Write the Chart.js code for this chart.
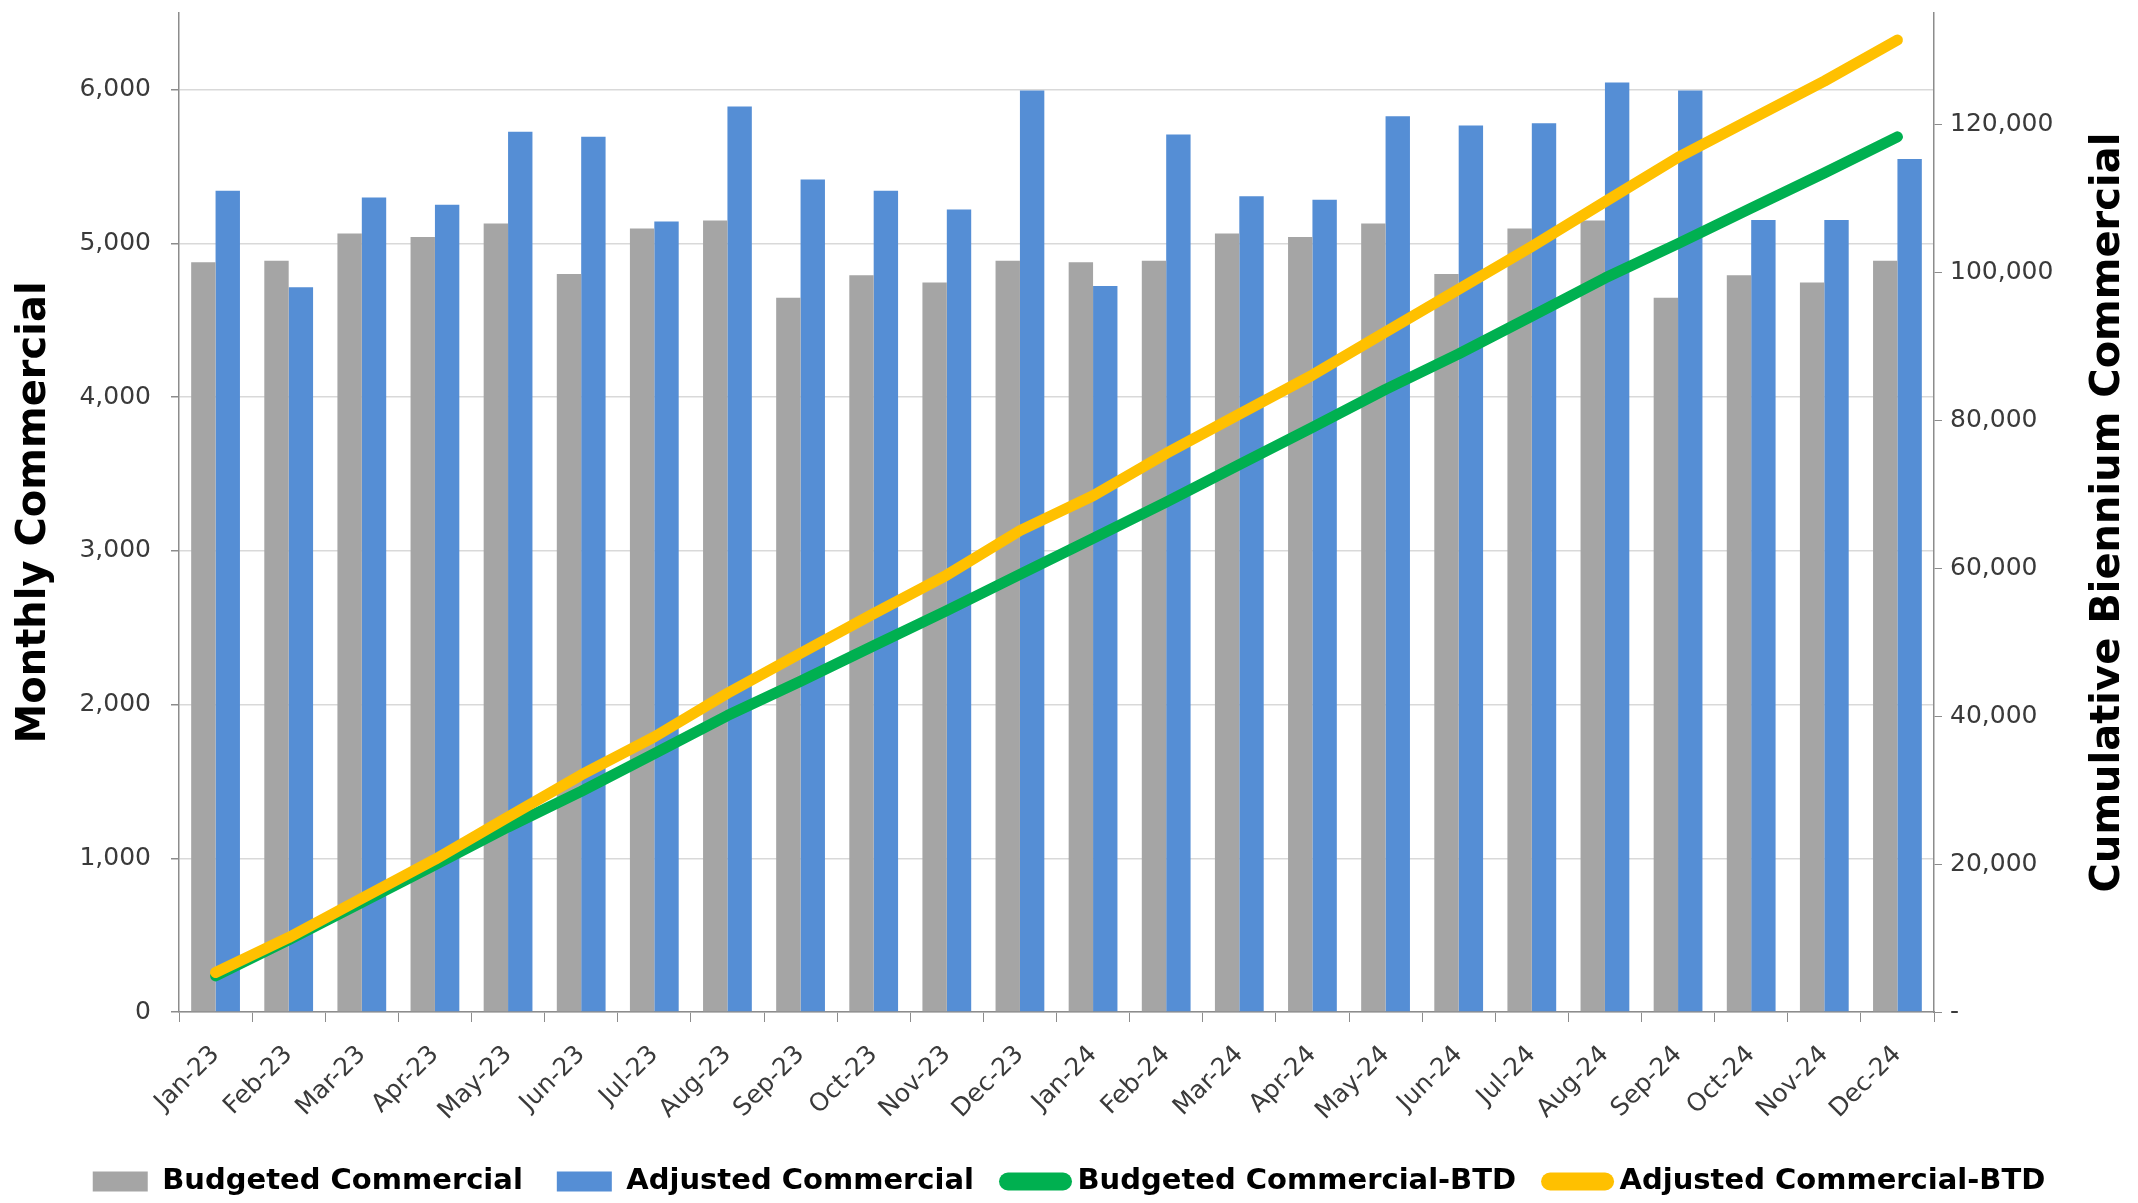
<!DOCTYPE html>
<html>
<head>
<meta charset="utf-8">
<script src="https://cdn.jsdelivr.net/npm/chart.js@4/dist/chart.umd.min.js"></script>
<style>
    html, body { margin: 0; padding: 0; background: #ffffff; }
    #wrap { width: 2138px; height: 1203px; }
</style>
</head>
<body>
<div id="wrap"><canvas id="commercialChart" width="2138" height="1203"></canvas></div>
<script>
// Month categories
const months = ['Jan-23', 'Feb-23', 'Mar-23', 'Apr-23', 'May-23', 'Jun-23', 'Jul-23', 'Aug-23', 'Sep-23', 'Oct-23', 'Nov-23', 'Dec-23',
    'Jan-24', 'Feb-24', 'Mar-24', 'Apr-24', 'May-24', 'Jun-24', 'Jul-24', 'Aug-24', 'Sep-24', 'Oct-24', 'Nov-24', 'Dec-24'];

// Monthly values (left axis)
const budgetedMonthly = [4879, 4888, 5066, 5043, 5130, 4802, 5098, 5150, 4647, 4793, 4747, 4888,
    4879, 4888, 5066, 5043, 5130, 4802, 5098, 5150, 4647, 4793, 4747, 4888];
const adjustedMonthly = [5344, 4715, 5299, 5253, 5727, 5695, 5144, 5891, 5417, 5344, 5221, 5996,
    4724, 5709, 5308, 5285, 5828, 5768, 5782, 6047, 5996, 5153, 5153, 5550];

// Biennium-to-date values (right axis)
const budgetedBtd = [4879, 9767, 14833, 19876, 25006, 29808, 34906, 40056, 44703, 49496, 54243, 59131,
    64010, 68898, 73964, 79007, 84137, 88939, 94037, 99187, 103834, 108627, 113374, 118262];
const adjustedBtd = [5344, 10059, 15358, 20611, 26338, 32033, 37177, 43068, 48485, 53829, 59050, 65046,
    69770, 75479, 80787, 86072, 91900, 97668, 103450, 109497, 115493, 120646, 125799, 131349];

// Axis ranges, tick values and titles
const leftMax = 6500;
const rightMax = 135000;
const leftTicks = [0, 1000, 2000, 3000, 4000, 5000, 6000];
const rightTicks = [0, 20000, 40000, 60000, 80000, 100000, 120000];
const leftTitle = 'Monthly Commercial';
const rightTitle = 'Cumulative Biennium Commercial';

const fontFamily = "'DejaVu Sans', Verdana, sans-serif";
const tickFont = { family: fontFamily, size: 25 };
const tickColor = '#3a3a3a';
const axisGrey = '#8c8c8c';

// Drop the extra room Chart.js keeps for half tick labels, so the plot keeps its place
const noScalePadding = scale => {
    scale.paddingTop = 0;
    scale.paddingBottom = 0;
};

// Draw both axis titles reading bottom to top, as in the original
const axisTitles = {
    id: 'axisTitles',
    afterDraw(chart) {
        const ctx = chart.ctx;
        const midY = (chart.chartArea.top + chart.chartArea.bottom) / 2;
        ctx.save();
        ctx.fillStyle = '#000000';
        ctx.font = `bold 40px ${fontFamily}`;
        ctx.textAlign = 'center';
        ctx.textBaseline = 'middle';
        [[35, leftTitle], [2109, rightTitle]].forEach(([x, text]) => {
            ctx.save();
            ctx.translate(x, midY);
            ctx.rotate(-Math.PI / 2);
            ctx.fillText(text, 0, 0);
            ctx.restore();
        });
        ctx.restore();
    }
};

const ctx = document.getElementById('commercialChart').getContext('2d');
new Chart(ctx, {
    data: {
        labels: months,
        datasets: [
            {
                type: 'bar',
                label: 'Budgeted Commercial',
                data: budgetedMonthly,
                backgroundColor: '#a5a5a5',
                yAxisID: 'y',
                order: 2,
                barPercentage: 1.0,
                categoryPercentage: 0.667
            },
            {
                type: 'bar',
                label: 'Adjusted Commercial',
                data: adjustedMonthly,
                backgroundColor: '#558ed5',
                yAxisID: 'y',
                order: 2,
                barPercentage: 1.0,
                categoryPercentage: 0.667
            },
            {
                type: 'line',
                label: 'Budgeted Commercial-BTD',
                data: budgetedBtd,
                borderColor: '#00b050',
                backgroundColor: '#00b050',
                borderWidth: 11,
                borderCapStyle: 'round',
                borderJoinStyle: 'round',
                pointRadius: 0,
                yAxisID: 'y1',
                order: 1
            },
            {
                type: 'line',
                label: 'Adjusted Commercial-BTD',
                data: adjustedBtd,
                borderColor: '#ffc000',
                backgroundColor: '#ffc000',
                borderWidth: 11,
                borderCapStyle: 'round',
                borderJoinStyle: 'round',
                pointRadius: 0,
                yAxisID: 'y1',
                order: 0
            }
        ]
    },
    options: {
        responsive: false,
        animation: false,
        layout: { padding: { top: 13, left: 0, right: 0, bottom: -3 } },
        plugins: {
            tooltip: { enabled: false },
            legend: {
                position: 'bottom',
                labels: {
                    usePointStyle: true,
                    pointStyleWidth: 55,
                    boxHeight: 20,
                    padding: 34,
                    color: '#000000',
                    font: { family: fontFamily, size: 29, weight: 'bold' },
                    sort: (a, b) => a.datasetIndex - b.datasetIndex,
                    generateLabels(chart) {
                        const items = Chart.defaults.plugins.legend.labels.generateLabels(chart);
                        items.forEach(item => {
                            const ds = chart.data.datasets[item.datasetIndex];
                            if (ds.type === 'line') {
                                item.pointStyle = 'line';
                                item.lineWidth = 18;
                                item.lineCap = 'round';
                                item.strokeStyle = ds.borderColor;
                            } else {
                                item.pointStyle = 'rect';
                                item.lineWidth = 0;
                            }
                        });
                        return items;
                    }
                }
            }
        },
        scales: {
            x: {
                afterFit: scale => { scale.height = 121; },
                grid: { drawOnChartArea: false, tickColor: axisGrey, tickLength: 10 },
                border: { color: axisGrey, width: 1.5 },
                ticks: { color: tickColor, font: tickFont, minRotation: 45, maxRotation: 45, padding: 18 }
            },
            y: {
                position: 'left',
                min: 0,
                max: leftMax,
                afterFit: scale => { scale.width = 179; noScalePadding(scale); },
                afterBuildTicks: scale => { scale.ticks = leftTicks.map(v => ({ value: v })); },
                grid: { color: '#d9d9d9', lineWidth: 1.5, tickColor: axisGrey, tickLength: 8 },
                border: { color: axisGrey, width: 1.5 },
                ticks: {
                    color: tickColor,
                    font: tickFont,
                    padding: 20,
                    callback: v => v.toLocaleString('en-US')
                }
            },
            y1: {
                position: 'right',
                min: 0,
                max: rightMax,
                afterFit: scale => { scale.width = 204; noScalePadding(scale); },
                afterBuildTicks: scale => { scale.ticks = rightTicks.map(v => ({ value: v })); },
                grid: { drawOnChartArea: false, tickColor: axisGrey, tickLength: 8 },
                border: { color: axisGrey, width: 1.5 },
                ticks: {
                    color: tickColor,
                    font: tickFont,
                    padding: 8,
                    callback: v => (v === 0 ? '-' : v.toLocaleString('en-US'))
                }
            }
        }
    },
    plugins: [axisTitles]
});
</script>
</body>
</html>
